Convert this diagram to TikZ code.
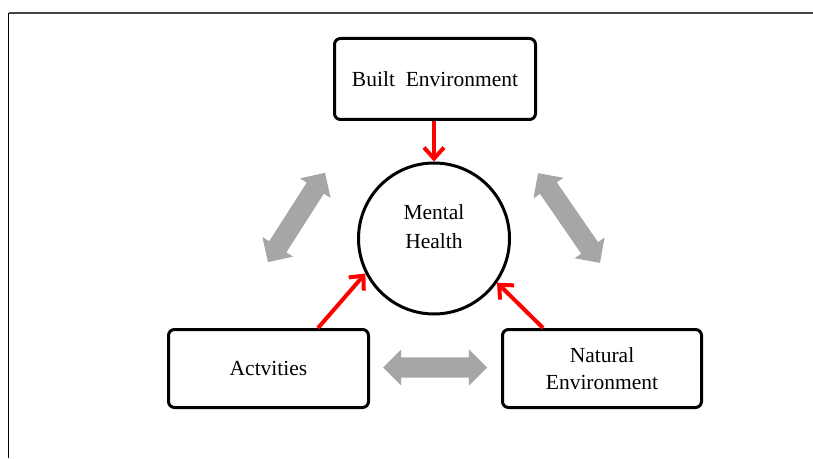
\documentclass[tikz,border=0pt]{standalone}
\usepackage{fontspec}
\setmainfont{Liberation Serif}
\usetikzlibrary{arrows.meta,shapes.arrows}
\definecolor{linkgray}{RGB}{166,166,166}
\definecolor{framegray}{RGB}{70,70,70}
\tikzset{
%Define standard arrow tip
>={Straight Barb[length=11pt,width=20pt]},
%Define styles for the factors, the centre and the links
factor/.style={draw, line width=3pt, rounded corners=6pt, align=center,
  font=\fontsize{21.5}{27}\selectfont},
health/.style={draw, circle, line width=3pt, minimum size=151pt, inner sep=0pt},
influence/.style={->, red, line width=4pt},
link/.style={double arrow, fill=linkgray, inner sep=10pt,
  double arrow head extend=8pt, double arrow tip angle=90},
}

\begin{document}
\begin{tikzpicture}[x=1pt,y=1pt]
    \useasboundingbox (0,0) rectangle (813,458);

    % frame
    \draw[framegray, line width=2pt] (8.5,445) -- (813,445);
    \draw[black, line width=1.2pt] (8.5,445) -- (8.5,0);

    % centre
    \node[health] (mh) at (434,219.5) {};
    \node[align=center, font=\fontsize{21.5}{29}\selectfont] (mhtext) at (434,231) {Mental\\Health};

    % factors
    \node[factor, minimum width=201pt, minimum height=81pt] (built) at (435,379) {Built~~Environment};
    \node[factor, minimum width=200pt, minimum height=78pt] (act) at (268.5,89.5) {Actvities};
    \node[factor, minimum width=199pt, minimum height=78pt] (nat) at (602,89.5) {Natural\\Environment};

    % influences on mental health
    \draw[influence] (built.south -| mh.north) -- (mh.north);
    \draw[influence] ([xshift=49.5pt]act.north) -- (mh.207);
    \draw[influence] ([xshift=-59pt]nat.north) -- (mh.325);

    % links between the factors
    \node[link, minimum height=106pt, rotate=57.4] (builtact) at (296.5,240.5) {};
    \node[link, minimum height=109pt, rotate=-55.4] (builtnat) at (569,240) {};
    \node[link, minimum height=104pt] (actnat) at (435,90.5) {};
\end{tikzpicture}
\end{document}
